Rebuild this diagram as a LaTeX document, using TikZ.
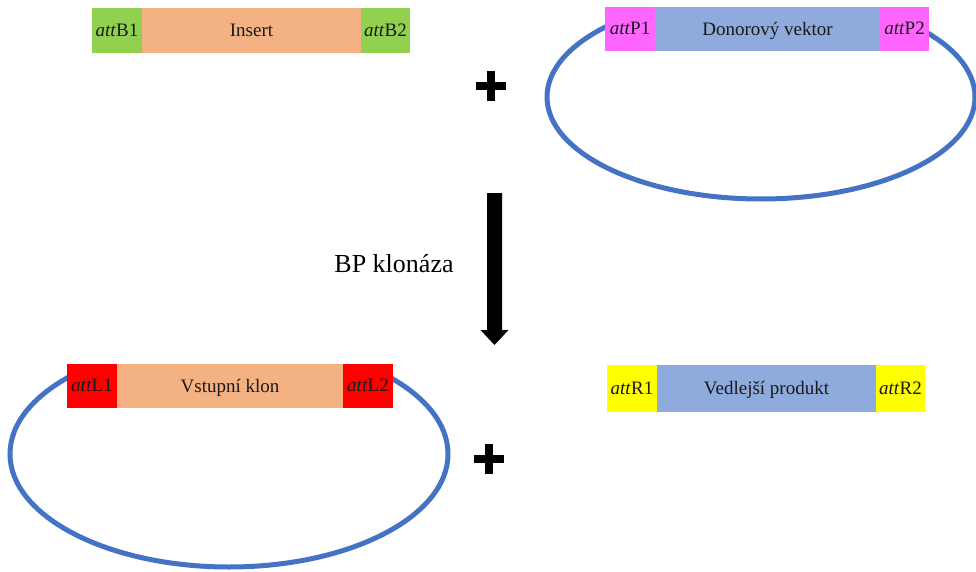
\documentclass[tikz,border=0pt]{standalone}
\usepackage{fontspec}
\setmainfont{Liberation Serif}
\definecolor{cgreen}{HTML}{92D050}
\definecolor{corange}{HTML}{F4B183}
\definecolor{cblue}{HTML}{8FAADC}
\definecolor{cpink}{HTML}{FF66FF}
\definecolor{cred}{HTML}{FF0000}
\definecolor{cyellow}{HTML}{FFFF00}
\definecolor{cring}{HTML}{4472C4}
\tikzset{
  seg/.style={draw=none, inner sep=0pt, outer sep=0pt, anchor=north west,
    font=\fontsize{19}{22}\selectfont, text=black!90, text depth=1pt},
  ring/.style={draw=cring, line width=5pt},
  plussign/.style={line width=8pt, black},
}
\newcommand{\att}[1]{\textit{att}#1}
\begin{document}
\begin{tikzpicture}[x=1pt,y=-1pt]
\useasboundingbox (0,0) rectangle (976,572);
% rings
\begin{scope}
  \clip (500,11) rectangle (990,240);
  \draw[ring] (761,97) ellipse [x radius=214, y radius=102];
\end{scope}
\begin{scope}
  \clip (-5,368) rectangle (470,580);
  \draw[ring] (229,454) ellipse [x radius=219, y radius=113];
\end{scope}
% top-left: insert
\node[seg, fill=cgreen, minimum width=50pt, minimum height=45pt] (b1) at (92,8) {\att{B1}};
\node[seg, fill=corange, minimum width=219pt, minimum height=45pt] (ins) at (142,8) {Insert};
\node[seg, fill=cgreen, minimum width=49pt, minimum height=45pt] (b2) at (361,8) {\att{B2}};
% top-right: donor vector
\node[seg, fill=cpink, minimum width=50pt, minimum height=44pt] (p1) at (605,7) {\att{P1}};
\node[seg, fill=cblue, minimum width=225pt, minimum height=44pt] (don) at (655,7) {Donorový vektor};
\node[seg, fill=cpink, minimum width=49pt, minimum height=44pt] (p2) at (880,7) {\att{P2}};
% bottom-left: entry clone
\node[seg, fill=cred, minimum width=50pt, minimum height=44pt] (l1) at (67,364) {\att{L1}};
\node[seg, fill=corange, minimum width=226pt, minimum height=44pt] (vk) at (117,364) {Vstupní klon};
\node[seg, fill=cred, minimum width=50pt, minimum height=44pt] (l2) at (343,364) {\att{L2}};
% bottom-right: by-product
\node[seg, fill=cyellow, minimum width=50pt, minimum height=47pt] (r1) at (607,365) {\att{R1}};
\node[seg, fill=cblue, minimum width=219pt, minimum height=47pt] (vp) at (657,365) {Vedlejší produkt};
\node[seg, fill=cyellow, minimum width=49pt, minimum height=47pt] (r2) at (876,365) {\att{R2}};
% plus signs
\coordinate (plusA) at (491,86);
\coordinate (plusB) at (489,459);
\foreach \p in {plusA,plusB}{
  \draw[plussign] ([xshift=-15pt]\p) -- ([xshift=15pt]\p);
  \draw[plussign] ([yshift=-15pt]\p) -- ([yshift=15pt]\p);
}
% reaction arrow
\coordinate (arrTop) at (494.5,193);
\coordinate (arrTip) at (494.5,345);
\fill[black] ([xshift=-7.5pt]arrTop) -- ([xshift=7.5pt]arrTop)
  -- (502,330) -- (508.5,330) -- (arrTip) -- (480.5,330) -- (487,330) -- cycle;
\node[font=\fontsize{26}{30}\selectfont, inner sep=0pt] (bp) at (394,264) {BP klonáza};
\end{tikzpicture}
\end{document}
